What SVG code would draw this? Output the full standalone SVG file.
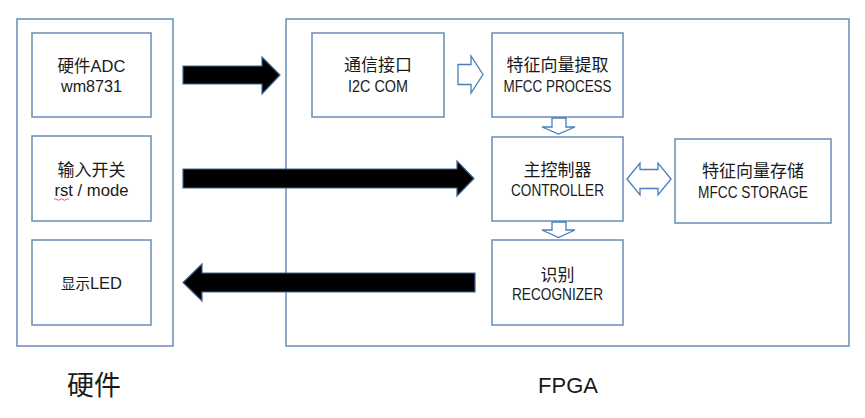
<svg xmlns="http://www.w3.org/2000/svg" width="865" height="418" viewBox="0 0 865 418">
<style>
.box{fill:#ffffff;stroke:#6a8db6;stroke-width:1.5}
.outer{fill:#ffffff;stroke:#6a8db6;stroke-width:1.5}
.t{font-family:"Liberation Sans","Noto Sans CJK SC",sans-serif;font-size:16.5px;fill:#1a1a1a;text-anchor:middle}
.cn{font-family:"Noto Sans CJK SC",sans-serif;font-size:17px;fill:#1a1a1a;text-anchor:middle}
.big{font-family:"Noto Sans CJK SC",sans-serif;font-size:27px;fill:#1a1a1a;text-anchor:middle}
.fpga{font-family:"Liberation Sans",sans-serif;font-size:22px;fill:#1a1a1a;text-anchor:middle}
.solid{fill:#000000;stroke:#3d6491;stroke-width:1.2;stroke-linejoin:miter}
.hollow{fill:#ffffff;stroke:#4a7ebb;stroke-width:1.3;stroke-linejoin:miter}
</style>
<rect width="865" height="418" fill="#ffffff"/>
<g id="hardware">
<rect class="outer" x="17" y="19" width="156" height="327"/>
</g>
<g id="fpga">
<rect class="outer" x="286" y="19" width="563" height="327"/>
</g>
<g id="adc">
<rect class="box" x="32" y="33" width="119" height="84"/>
<text class="t" x="91.5" y="72"><tspan font-family="Noto Sans CJK SC, sans-serif" font-size="16.5">硬件</tspan><tspan>ADC</tspan></text>
<text class="t" x="91.5" y="92" textLength="61" lengthAdjust="spacingAndGlyphs">wm8731</text>
</g>
<g id="switch">
<rect class="box" x="32" y="136" width="119" height="85"/>
<text class="cn" x="91.5" y="176">输入开关</text>
<text class="t" x="91.5" y="196" textLength="74" lengthAdjust="spacingAndGlyphs">rst / mode</text>
<path d="M54 199.5 q1.5 -1.5 3 0 t3 0 t3 0 t3 0 t3 0" fill="none" stroke="#e03030" stroke-width="0.8"/>
</g>
<g id="led">
<rect class="box" x="32" y="240" width="119" height="85"/>
<text class="t" x="91.5" y="289" font-size="15"><tspan font-family="Noto Sans CJK SC, sans-serif" font-size="14.5">显示</tspan><tspan>LED</tspan></text>
</g>
<g id="i2c">
<rect class="box" x="312" y="33" width="132" height="84"/>
<text class="cn" x="378" y="71">通信接口</text>
<text class="t" x="378" y="92" textLength="60" lengthAdjust="spacingAndGlyphs">I2C COM</text>
</g>
<g id="mfcc">
<rect class="box" x="492" y="33" width="131" height="84"/>
<text class="cn" x="557.5" y="71">特征向量提取</text>
<text class="t" x="557.5" y="92" textLength="108" lengthAdjust="spacingAndGlyphs">MFCC PROCESS</text>
</g>
<g id="controller">
<rect class="box" x="492" y="137" width="131" height="84"/>
<text class="cn" x="557.5" y="176">主控制器</text>
<text class="t" x="557.5" y="196" textLength="93" lengthAdjust="spacingAndGlyphs">CONTROLLER</text>
</g>
<g id="storage">
<rect class="box" x="675" y="139" width="156" height="84"/>
<text class="cn" x="753" y="177">特征向量存储</text>
<text class="t" x="753" y="198" textLength="110" lengthAdjust="spacingAndGlyphs">MFCC STORAGE</text>
</g>
<g id="recognizer">
<rect class="box" x="492" y="240" width="131" height="85"/>
<text class="cn" x="557.5" y="281">识别</text>
<text class="t" x="557.5" y="300" textLength="91" lengthAdjust="spacingAndGlyphs">RECOGNIZER</text>
</g>
<g id="labels">
<text class="big" x="94" y="395">硬件</text>
<text class="fpga" x="568" y="393">FPGA</text>
</g>
<g id="connectors">
<path class="solid" d="M183 66 H262 V57 L280 75 L262 94 V84 H183 Z"/>
<path class="solid" d="M183 169 H457 V161 L474 178.5 L457 196 V188 H183 Z"/>
<path class="solid" d="M475 273 H202 V264 L183 282.5 L202 301 V292 H475 Z"/>
<path class="hollow" d="M458 64.5 H471 V56 L483 74.5 L471 93 V84.5 H458 Z"/>
<path class="hollow" d="M552 118 H566 V127 H575 L558.5 134 L542 127 H552 Z"/>
<path class="hollow" d="M552 222 H566 V230 H575 L558.5 237.5 L542 230 H552 Z"/>
<path class="hollow" d="M627 179 L640 163 V169.5 H658 V163 L671 179 L658 195 V188.5 H640 V195 Z"/>
</g>
</svg>
